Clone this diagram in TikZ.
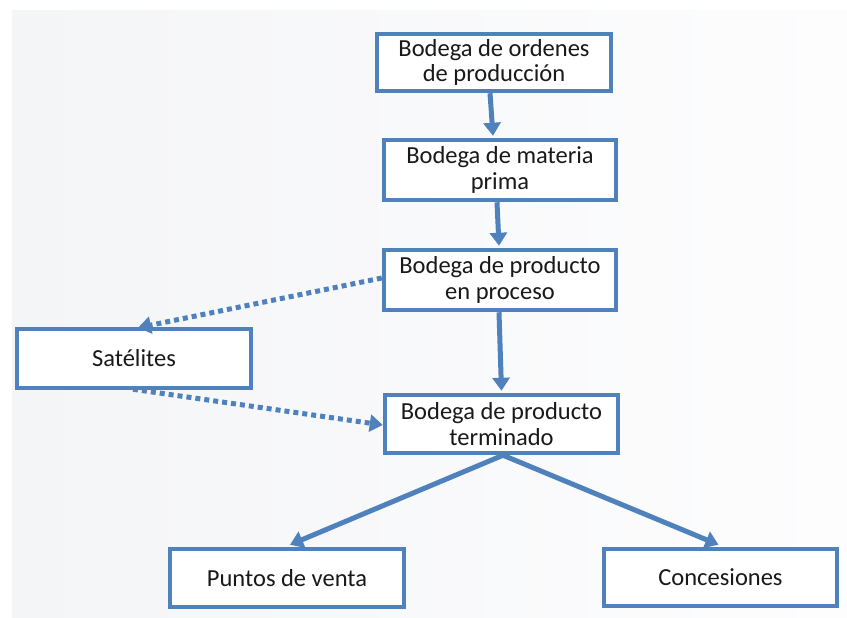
\documentclass[tikz,border=0pt]{standalone}
\usepackage{fontspec}
\setmainfont{Carlito}
\usetikzlibrary{arrows.meta}
\definecolor{boxblue}{RGB}{79,129,189}
\definecolor{txt}{RGB}{25,25,25}
\definecolor{bgl}{RGB}{244,245,247}
\definecolor{bgr}{RGB}{253,253,254}
\tikzset{
  x=1pt, y=-1pt,
  box/.style={draw=boxblue, line width=4.5pt, fill=white, rectangle, align=center,
    inner sep=0pt, text=txt, font=\fontsize{24.5}{25.5}\selectfont},
  flow/.style={draw=boxblue, line width=5pt, -{Triangle[width=17pt,length=13pt]}},
  dotflow/.style={flow, dash pattern=on 5pt off 4pt}
}
\begin{document}
\begin{tikzpicture}
\useasboundingbox (0,0) rectangle (847,618);
\shade[left color=bgl, right color=bgr] (12,11) rectangle (847,618);
\node[box, minimum width=234pt, minimum height=57pt] (b1) at (494,62.5) {Bodega de ordenes\\de producción};
\node[box, minimum width=232pt, minimum height=60pt] (b2) at (500,170) {Bodega de materia\\prima};
\node[box, minimum width=232pt, minimum height=60pt] (b3) at (500,280) {Bodega de producto\\en proceso};
\node[box, minimum width=233pt, minimum height=58pt] (b4) at (501.5,424) {Bodega de producto\\terminado};
\node[box, minimum width=234pt, minimum height=59pt] (sat) at (134,358.5) {Satélites};
\node[box, minimum width=234pt, minimum height=58pt] (pv) at (287,578) {Puntos de venta};
\node[box, minimum width=233pt, minimum height=57pt] (con) at (720.5,577.5) {Concesiones};
\draw[flow] ([xshift=-4pt]b1.south) -- ([xshift=-7pt,yshift=2pt]b2.north);
\draw[flow] ([xshift=-3pt]b2.south) -- ([xshift=-1pt,yshift=2pt]b3.north);
\draw[flow] ([xshift=-1pt]b3.south) -- ([xshift=0pt,yshift=2pt]b4.north);
\draw[flow] ([xshift=1.5pt]b4.south) -- ([xshift=3pt,yshift=2pt]pv.north);
\draw[flow] ([xshift=1.5pt]b4.south) -- ([xshift=-2pt,yshift=2pt]con.north);
\draw[dotflow] ([yshift=2pt]b3.west) -- ([xshift=4pt,yshift=-1pt]sat.north);
\draw[dotflow] ([xshift=-1pt,yshift=1pt]sat.south) -- ([yshift=-1pt]b4.west);
\end{tikzpicture}
\end{document}
